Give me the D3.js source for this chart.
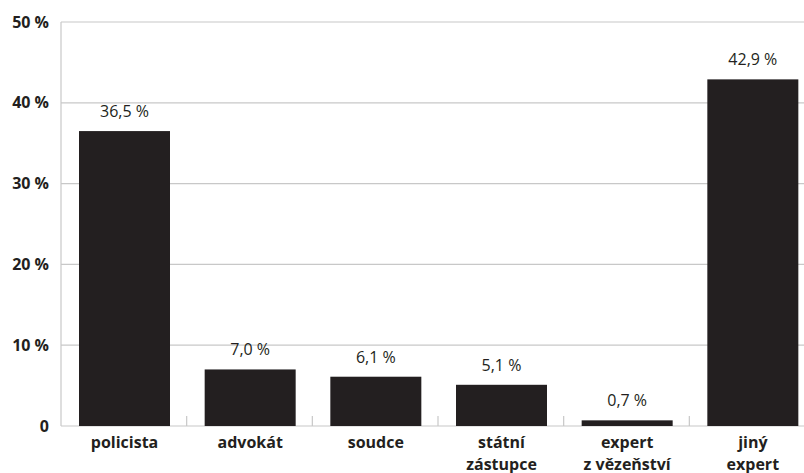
<!DOCTYPE html>
<html lang="cs">
<head>
  <meta charset="UTF-8">
  <title>Chart</title>
  <script src="https://d3js.org/d3.v7.min.js"></script>
  <style>
    html, body {
      margin: 0;
      padding: 0;
      background: #fff;
      overflow: hidden;
    }
    text {
      font-family: "Open Sans", "DejaVu Sans", sans-serif;
      fill: #231f20;
    }
  </style>
</head>
<body>
  <svg id="chart" width="804" height="473"></svg>
  <script>
    const categories = [
      ['policista'],
      ['advokát'],
      ['soudce'],
      ['státní', 'zástupce'],
      ['expert', 'z vězeňství'],
      ['jiný', 'expert'],
    ];
    const values = [36.5, 7.0, 6.1, 5.1, 0.7, 42.9];
    const valueLabels = ['36,5 %', '7,0 %', '6,1 %', '5,1 %', '0,7 %', '42,9 %'];
    const yTicks = [0, 10, 20, 30, 40, 50];

    const svg = d3.select('#chart');
    const mLeft = 61, mRight = 815, mTop = 22, mBottom = 426;
    const gridColor = '#c8c8c8';
    const barColor = '#231f20';

    // band per category; the last band runs past the visible edge like the original
    const x = d3.scaleBand()
      .domain(d3.range(categories.length))
      .range([mLeft, mRight]);
    const barW = 91;
    const barX = i => x(i) + 18;

    const y = d3.scaleLinear().domain([0, 50]).range([mBottom, mTop]);

    // gridlines
    svg.append('g')
      .selectAll('line')
      .data(yTicks)
      .join('line')
      .attr('x1', mLeft)
      .attr('x2', mRight)
      .attr('y1', d => y(d))
      .attr('y2', d => y(d))
      .attr('stroke', gridColor)
      .attr('stroke-width', 1.2);

    // y axis line
    svg.append('line')
      .attr('x1', mLeft).attr('x2', mLeft)
      .attr('y1', y(50)).attr('y2', y(0))
      .attr('stroke', gridColor)
      .attr('stroke-width', 1.2);

    // small ticks between categories
    svg.append('g')
      .selectAll('line')
      .data(d3.range(1, categories.length))
      .join('line')
      .attr('x1', i => x(i))
      .attr('x2', i => x(i))
      .attr('y1', y(0))
      .attr('y2', y(0) - 10)
      .attr('stroke', gridColor)
      .attr('stroke-width', 1.2);

    // y labels
    svg.append('g')
      .selectAll('text')
      .data(yTicks)
      .join('text')
      .attr('x', 49)
      .attr('y', d => y(d) + 5.5)
      .attr('text-anchor', 'end')
      .attr('font-size', 16)
      .attr('font-weight', 'bold')
      .text(d => d === 0 ? '0' : d + ' %');

    // bars
    svg.append('g')
      .selectAll('rect')
      .data(values)
      .join('rect')
      .attr('x', (d, i) => barX(i))
      .attr('width', barW)
      .attr('y', d => y(d))
      .attr('height', d => y(0) - y(d))
      .attr('fill', barColor);

    // value labels
    svg.append('g')
      .selectAll('text')
      .data(values)
      .join('text')
      .attr('x', (d, i) => barX(i) + barW / 2)
      .attr('y', d => y(d) - 14)
      .attr('text-anchor', 'middle')
      .attr('font-size', 16)
      .text((d, i) => valueLabels[i]);

    // category labels, one text per line
    const catG = svg.append('g')
      .selectAll('g')
      .data(categories)
      .join('g');
    catG.selectAll('text')
      .data((d, i) => d.map(line => ({ line, i })))
      .join('text')
      .attr('x', d => barX(d.i) + barW / 2)
      .attr('y', (d, k) => 448 + k * 21.5)
      .attr('text-anchor', 'middle')
      .attr('font-size', 16)
      .attr('font-weight', 'bold')
      .text(d => d.line);
  </script>
</body>
</html>
